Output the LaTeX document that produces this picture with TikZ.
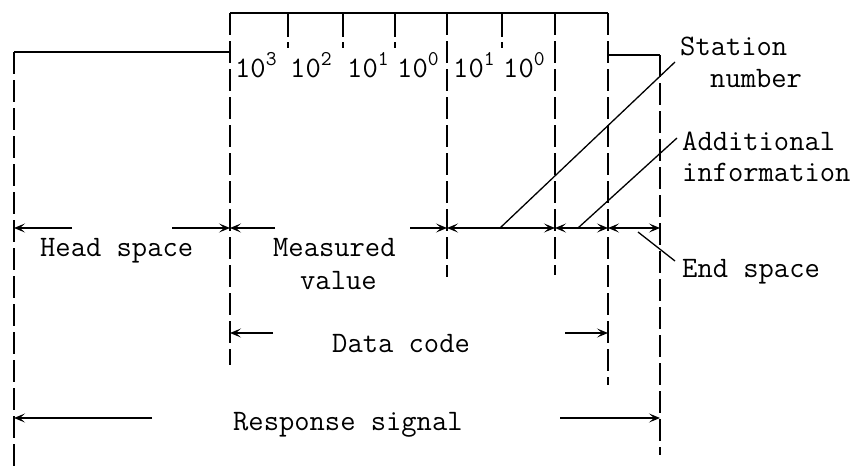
\documentclass[tikz,border=0pt]{standalone}
\usepackage{fontspec}
\usetikzlibrary{arrows.meta}
\tikzset{
  sig/.style={line width=1.8pt},
  dline/.style={line width=1.8pt, dash pattern=on 22pt off 6pt},
  tick/.style={line width=1.6pt, dash pattern=on 24pt off 5pt},
  tipa/.tip={Stealth[length=11pt,width=9pt,inset=5pt]},
  dimarrow/.style={line width=1.3pt, -tipa},
  dimboth/.style={line width=1.3pt, tipa-tipa},
  lead/.style={line width=1.3pt},
  lbl/.style={font=\ttfamily\fontsize{29.7}{33}\selectfont, anchor=base west, inner sep=0pt},
}
\newcommand{\pw}[1]{10\raisebox{12pt}{\fontsize{21}{23}\selectfont #1}}
\begin{document}
\begin{tikzpicture}[x=1pt,y=-1pt]
\useasboundingbox (0,0) rectangle (856,471);

% signal outline corners
\coordinate (L0) at (14,52);
\coordinate (L1) at (230,52);
\coordinate (T0) at (230,13);
\coordinate (T1) at (608,13);
\coordinate (R0) at (608,55);
\coordinate (R1) at (660,55);
\coordinate (Ta) at (447,13);
\coordinate (Tb) at (555,13);
% bottom ends of dashed lines
\coordinate (B14) at (14,470);
\coordinate (B230) at (230,365);
\coordinate (B447) at (447,277);
\coordinate (B555) at (555,275);
\coordinate (B608) at (608,385);
\coordinate (B660) at (660,455);
% short ticks
\coordinate (k1t) at (288,13); \coordinate (k1b) at (288,48);
\coordinate (k2t) at (343,13); \coordinate (k2b) at (343,48);
\coordinate (k3t) at (395,13); \coordinate (k3b) at (395,48);
\coordinate (k4t) at (502,13); \coordinate (k4b) at (502,48);

\draw[sig] (L0) -- (L1);
\draw[sig] (T0) -- (T1);
\draw[sig] (R0) -- (R1);
\draw[dline] (L0) -- (B14);
\draw[dline] (T0) -- (B230);
\draw[dline] (Ta) -- (B447);
\draw[dline] (Tb) -- (B555);
\draw[dline] (T1) -- (B608);
\draw[dline] (R1) -- (B660);
\draw[tick] (k1t) -- (k1b);
\draw[tick] (k2t) -- (k2b);
\draw[tick] (k3t) -- (k3b);
\draw[tick] (k4t) -- (k4b);

% digit labels
\node[lbl] (d1) at (235,77) {\pw{3}};
\node[lbl] (d2) at (290,77) {\pw{2}};
\node[lbl] (d3) at (347,77) {\pw{1}};
\node[lbl] (d4) at (397,77) {\pw{0}};
\node[lbl] (d5) at (453,77) {\pw{1}};
\node[lbl] (d6) at (503,77) {\pw{0}};

% dimension row
\coordinate (a14) at (14,228);
\coordinate (a230) at (230,228);
\coordinate (a447) at (447,228);
\coordinate (a555) at (555,228);
\coordinate (a608) at (608,228);
\coordinate (a660) at (660,228);
\coordinate (h1) at (72,228);
\coordinate (h2) at (172,228);
\coordinate (m1) at (275,228);
\coordinate (m2) at (410,228);
\draw[dimarrow] (h1) -- (a14);
\draw[dimarrow] (h2) -- (a230);
\draw[dimarrow] (m1) -- (a230);
\draw[dimarrow] (m2) -- (a447);
\draw[dimboth] (a447) -- (a555);
\draw[dimboth] (a555) -- (a608);
\draw[dimboth] (a608) -- (a660);

% data code
\coordinate (c230) at (230,333);
\coordinate (c608) at (608,333);
\coordinate (c1) at (273,333);
\coordinate (c2) at (565,333);
\draw[dimarrow] (c1) -- (c230);
\draw[dimarrow] (c2) -- (c608);

% response signal
\coordinate (r14) at (14,418);
\coordinate (r660) at (660,418);
\coordinate (r1) at (152,418);
\coordinate (r2) at (560,418);
\draw[dimarrow] (r1) -- (r14);
\draw[dimarrow] (r2) -- (r660);

% leader lines
\coordinate (s0) at (500,228);
\coordinate (s1) at (675,62);
\coordinate (i0) at (578,228);
\coordinate (i1) at (677,138);
\coordinate (e0) at (638,232);
\coordinate (e1) at (675,261);
\draw[lead] (s0) -- (s1);
\draw[lead] (i0) -- (i1);
\draw[lead] (e0) -- (e1);

% texts
\node[lbl] (st) at (680,55) {Station};
\node[lbl] (nu) at (710,87) {number};
\node[lbl] (ad) at (682,150) {Additional};
\node[lbl] (in) at (682,181) {information};
\node[lbl] (es) at (682,277) {End space};
\node[lbl] (hs) at (40,256) {Head space};
\node[lbl] (me) at (273,256) {Measured};
\node[lbl] (va) at (300,289) {value};
\node[lbl] (dc) at (332,352) {Data code};
\node[lbl] (rs) at (233,430) {Response signal};
\end{tikzpicture}
\end{document}
